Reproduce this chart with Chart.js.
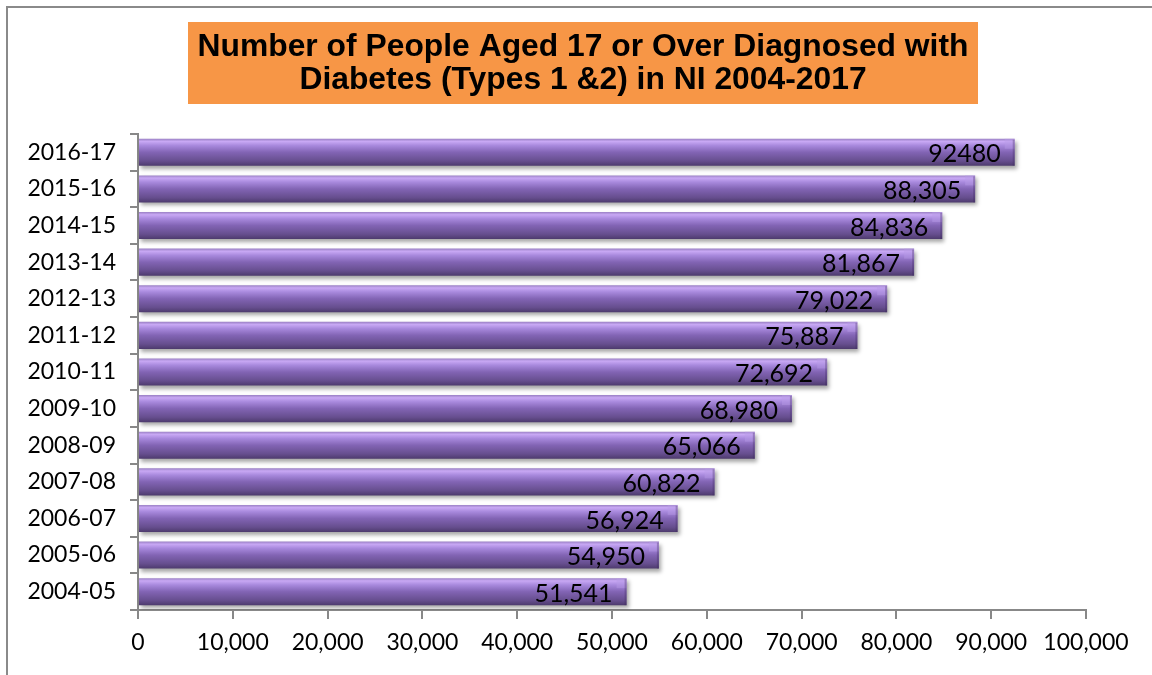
<!DOCTYPE html>
<html>
<head>
<meta charset="utf-8">
<script src="https://cdn.jsdelivr.net/npm/chart.js@4.4.1/dist/chart.umd.min.js"></script>
<style>
  html, body { margin: 0; padding: 0; background: #ffffff; }
  #wrap { width: 1152px; height: 675px; position: relative; }
</style>
</head>
<body>
<div id="wrap"><canvas id="c" width="1152" height="675"></canvas></div>
<script>
// ---- data ----
const categories = ["2004-05","2005-06","2006-07","2007-08","2008-09","2009-10","2010-11","2011-12","2012-13","2013-14","2014-15","2015-16","2016-17"];
const diagnosed = [51541, 54950, 56924, 60822, 65066, 68980, 72692, 75887, 79022, 81867, 84836, 88305, 92480];
const valueLabels = ["51,541","54,950","56,924","60,822","65,066","68,980","72,692","75,887","79,022","81,867","84,836","88,305","92480"];
const titleLines = ["Number of People Aged 17 or Over Diagnosed with", "Diabetes (Types 1 &2) in NI 2004-2017"];
const xMin = 0, xMax = 100000, xStep = 10000;

const FONT = "Lato, 'Open Sans', sans-serif";
const AXIS_GREY = "#888888";

// bar gradient (vertical, like a cylinder)
function barGradient(c) {
  const ch = c.chart;
  const ys = ch.scales && ch.scales.y;
  if (!ys || !ch.chartArea) return "#8064A2";
  const yc = ys.getPixelForValue(c.dataIndex);
  const cat = ys.height / categories.length;
  const h = cat * c.dataset.barPercentage;
  const g = ch.ctx.createLinearGradient(0, yc - h / 2, 0, yc + h / 2);
  g.addColorStop(0.00, "#9a80c4");
  g.addColorStop(0.10, "#c8a8f4");
  g.addColorStop(0.25, "#a889dd");
  g.addColorStop(0.50, "#8264b4");
  g.addColorStop(0.82, "#664e8e");
  g.addColorStop(1.00, "#4d3a6d");
  return g;
}

const frameAndTitle = {
  id: "frameAndTitle",
  beforeDraw(chart) {
    const ctx = chart.ctx;
    ctx.save();
    ctx.fillStyle = "#ffffff";
    ctx.fillRect(0, 0, chart.width, chart.height);
    // outer frame (top + left visible)
    ctx.strokeStyle = "#8a8a8a";
    ctx.lineWidth = 2;
    ctx.beginPath();
    ctx.moveTo(7, chart.height);
    ctx.lineTo(7, 7);
    ctx.lineTo(chart.width, 7);
    ctx.stroke();
    // title box
    const bx = 188, by = 22, bw = 790, bh = 82;
    ctx.fillStyle = "#F79646";
    ctx.fillRect(bx, by, bw, bh);
    ctx.fillStyle = "#000000";
    ctx.font = "bold 32px 'Liberation Sans', Arial, sans-serif";
    ctx.textAlign = "center";
    ctx.textBaseline = "middle";
    const w0 = ctx.measureText(titleLines[0]).width;
    const sx = 771 / w0;
    const cx = bx + bw / 2;
    const lineY = [47, 80];
    titleLines.forEach((t, i) => {
      ctx.save();
      ctx.translate(cx, lineY[i]);
      ctx.scale(sx, 1);
      ctx.fillText(t, 0, 0);
      ctx.restore();
    });
    ctx.restore();
  },
  beforeDatasetsDraw(chart) {
    const ctx = chart.ctx;
    ctx.save();
    ctx.shadowColor = "rgba(0,0,0,0.35)";
    ctx.shadowBlur = 4;
    ctx.shadowOffsetX = 2;
    ctx.shadowOffsetY = 3;
  },
  afterDatasetsDraw(chart) {
    const ctx = chart.ctx;
    ctx.restore();
    const meta = chart.getDatasetMeta(0);
    ctx.save();
    // bevel at bar ends
    meta.data.forEach((bar) => {
      const top = bar.y - bar.height / 2, bot = bar.y + bar.height / 2;
      const b = Math.min(10, bar.height * 0.4);
      ctx.fillStyle = "rgba(185,155,230,0.45)";
      ctx.beginPath();
      ctx.moveTo(bar.x - b, top + b);
      ctx.lineTo(bar.x - b, top);
      ctx.lineTo(bar.x, top);
      ctx.lineTo(bar.x, top + b);
      ctx.closePath();
      ctx.fill();
      ctx.fillStyle = "rgba(60,40,90,0.3)";
      ctx.fillRect(bar.x - 2, top + 1, 2, bot - top - 1);
    });
    // data labels
    ctx.fillStyle = "#000000";
    ctx.font = "25px " + FONT;
    ctx.textAlign = "right";
    ctx.textBaseline = "middle";
    meta.data.forEach((bar, i) => {
      ctx.fillText(valueLabels[i], bar.x - 14, bar.y + 2);
    });
    ctx.restore();
  }
};

new Chart(document.getElementById("c"), {
  type: "bar",
  data: {
    labels: categories,
    datasets: [{
      data: diagnosed,
      backgroundColor: barGradient,
      borderWidth: 0,
      barPercentage: 0.74,
      categoryPercentage: 1.0
    }]
  },
  options: {
    indexAxis: "y",
    responsive: false,
    animation: false,
    events: [],
    layout: { padding: { left: 10, right: 66, top: 134, bottom: 10 } },
    plugins: {
      legend: { display: false },
      title: { display: false },
      tooltip: { enabled: false }
    },
    scales: {
      x: {
        min: xMin, max: xMax,
        ticks: {
          stepSize: xStep,
          color: "#000000",
          font: { family: FONT, size: 23 },
          padding: 10,
          maxRotation: 0,
          callback: (v) => v.toLocaleString("en-US")
        },
        grid: { display: true, drawOnChartArea: false, drawTicks: true, tickLength: 9, color: AXIS_GREY, lineWidth: 2 },
        border: { display: true, color: AXIS_GREY, width: 2 },
        afterFit: (s) => { s.height = 55; }
      },
      y: {
        reverse: true,
        ticks: {
          color: "#000000",
          font: { family: FONT, size: 23 },
          padding: 14
        },
        grid: { display: true, offset: true, drawOnChartArea: false, drawTicks: true, tickLength: 8, color: AXIS_GREY, lineWidth: 2 },
        border: { display: true, color: AXIS_GREY, width: 2 },
        afterFit: (s) => { s.width = 128; }
      }
    }
  },
  plugins: [frameAndTitle]
});
</script>
</body>
</html>
